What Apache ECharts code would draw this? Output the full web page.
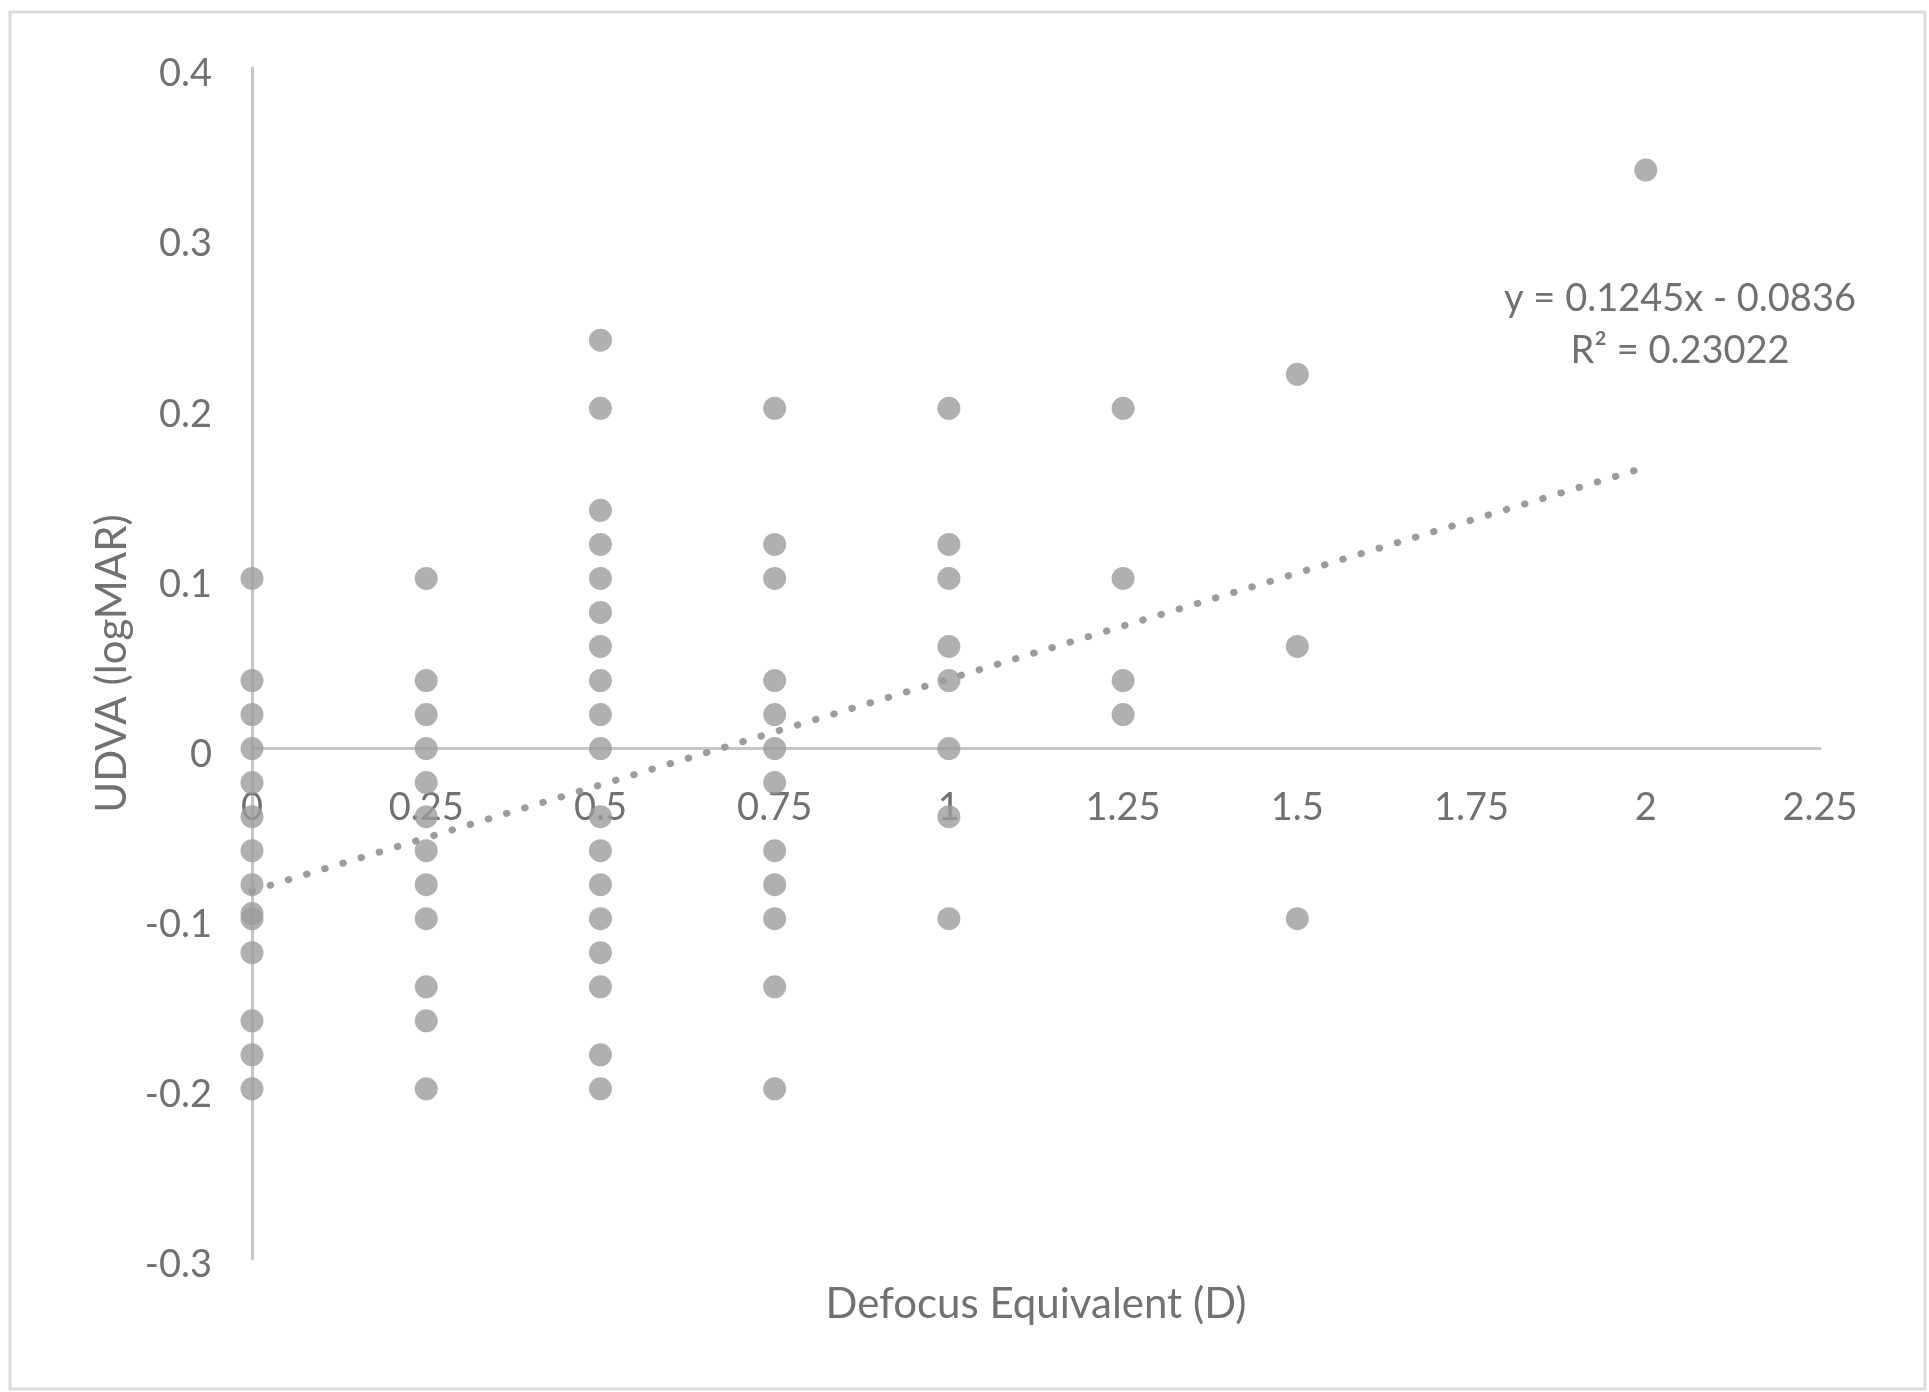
<!DOCTYPE html>
<html>
<head>
<meta charset="utf-8">
<script src="https://cdn.jsdelivr.net/npm/echarts@6/dist/echarts.min.js"></script>
<style>
html,body{margin:0;padding:0;background:#fff;}
#chart{width:1929px;height:1392px;}
</style>
</head>
<body>
<div id="chart"></div>
<script>
// Defocus equivalent (D) per column and the UDVA (logMAR) values read at each
const defocusLevels = [0, 0.25, 0.5, 0.75, 1, 1.25, 1.5, 2];
const udva_0    = [0.1, 0.04, 0.02, 0, -0.02, -0.04, -0.06, -0.08, -0.1, -0.097, -0.12, -0.16, -0.18, -0.2];
const udva_025  = [0.1, 0.04, 0.02, 0, -0.02, -0.04, -0.06, -0.08, -0.1, -0.14, -0.16, -0.2];
const udva_050  = [0.24, 0.2, 0.14, 0.12, 0.1, 0.08, 0.06, 0.04, 0.02, 0, -0.04, -0.06, -0.08, -0.1, -0.12, -0.14, -0.18, -0.2];
const udva_075  = [0.2, 0.12, 0.1, 0.04, 0.02, 0, -0.02, -0.06, -0.08, -0.1, -0.14, -0.2];
const udva_100  = [0.2, 0.12, 0.1, 0.06, 0.04, 0, -0.04, -0.1];
const udva_125  = [0.2, 0.1, 0.04, 0.02];
const udva_150  = [0.22, 0.06, -0.1];
const udva_200  = [0.34];
const udvaColumns = [udva_0, udva_025, udva_050, udva_075, udva_100, udva_125, udva_150, udva_200];

// Trendline as printed on the chart
const trendSlope = 0.1245;
const trendIntercept = -0.0836;
const trendRange = [0, 2];
const trendLabel = ['y = 0.1245x - 0.0836', 'R\u00B2 = 0.23022'];

// Axis settings (tick labels come from these)
const xTicks = { min: 0, max: 2.25, interval: 0.25 };
const yTicks = { min: -0.3, max: 0.4, interval: 0.1 };
const xTitle = 'Defocus Equivalent (D)';
const yTitle = 'UDVA (logMAR)';

const points = [];
defocusLevels.forEach((x, i) => udvaColumns[i].forEach(v => points.push([x, v])));
const trendData = trendRange.map(x => [x, trendSlope * x + trendIntercept]);

const FONT = 'Lato';
const TXT = '#717171';
const W = 1929, H = 1392;
const G = { left: 252, right: 109, top: 68, bottom: 133 };
// the x axis crosses the y axis at 0: shift it up from the grid bottom by the y-scale distance of 0 from min
const plotH = H - G.top - G.bottom;
const xAxisOffset = -plotH * (0 - yTicks.min) / (yTicks.max - yTicks.min);

const chart = echarts.init(document.getElementById('chart'), null, {renderer: 'canvas'});
chart.setOption({
  animation: false,
  backgroundColor: '#ffffff',
  textStyle: { fontFamily: FONT },
  grid: { left: G.left, right: G.right, top: G.top, bottom: G.bottom, containLabel: false, outerBoundsMode: 'none' },
  xAxis: {
    type: 'value',
    position: 'bottom',
    offset: xAxisOffset,
    min: xTicks.min, max: xTicks.max, interval: xTicks.interval,
    axisLine: { onZero: false, lineStyle: { color: '#c6c6c6', width: 3 } },
    axisTick: { show: false },
    splitLine: { show: false },
    axisLabel: { fontSize: 38, color: TXT, margin: 40, fontFamily: FONT },
    name: xTitle, nameLocation: 'middle', nameGap: 535,
    nameTextStyle: { fontSize: 42, color: TXT, fontFamily: FONT }
  },
  yAxis: {
    type: 'value',
    min: yTicks.min, max: yTicks.max, interval: yTicks.interval,
    axisLine: { show: true, onZero: true, lineStyle: { color: '#c6c6c6', width: 3 } },
    axisTick: { show: false },
    splitLine: { show: false },
    axisLabel: { fontSize: 38, color: TXT, margin: 40, fontFamily: FONT, verticalAlign: 'top', lineHeight: 12 },
    name: yTitle, nameLocation: 'middle', nameGap: 119, nameRotate: 90,
    nameTextStyle: { fontSize: 42, color: TXT, fontFamily: FONT }
  },
  graphic: [
    { type: 'text', x: 1680, y: 299, style: { text: trendLabel[0], fill: TXT, font: '38px Lato', textAlign: 'center', textVerticalAlign: 'middle' } },
    { type: 'text', x: 1680, y: 351, style: { text: trendLabel[1], fill: TXT, font: '38px Lato', textAlign: 'center', textVerticalAlign: 'middle' } },
    { type: 'rect', shape: { x: 10, y: 12, width: 1915, height: 1377 }, style: { fill: 'none', stroke: '#dcdcdc', lineWidth: 3 }, z: -1 }
  ],
  series: [
    {
      type: 'scatter',
      data: points,
      symbol: 'circle',
      symbolSize: 23,
      itemStyle: { color: '#9c9c9c' },
      z: 2
    },
    {
      type: 'line',
      data: trendData,
      showSymbol: false,
      symbol: 'none',
      lineStyle: { color: '#9c9c9c', width: 7, type: [0.5, 18.5], cap: 'round' },
      z: 3
    }
  ]
});
</script>
</body>
</html>
